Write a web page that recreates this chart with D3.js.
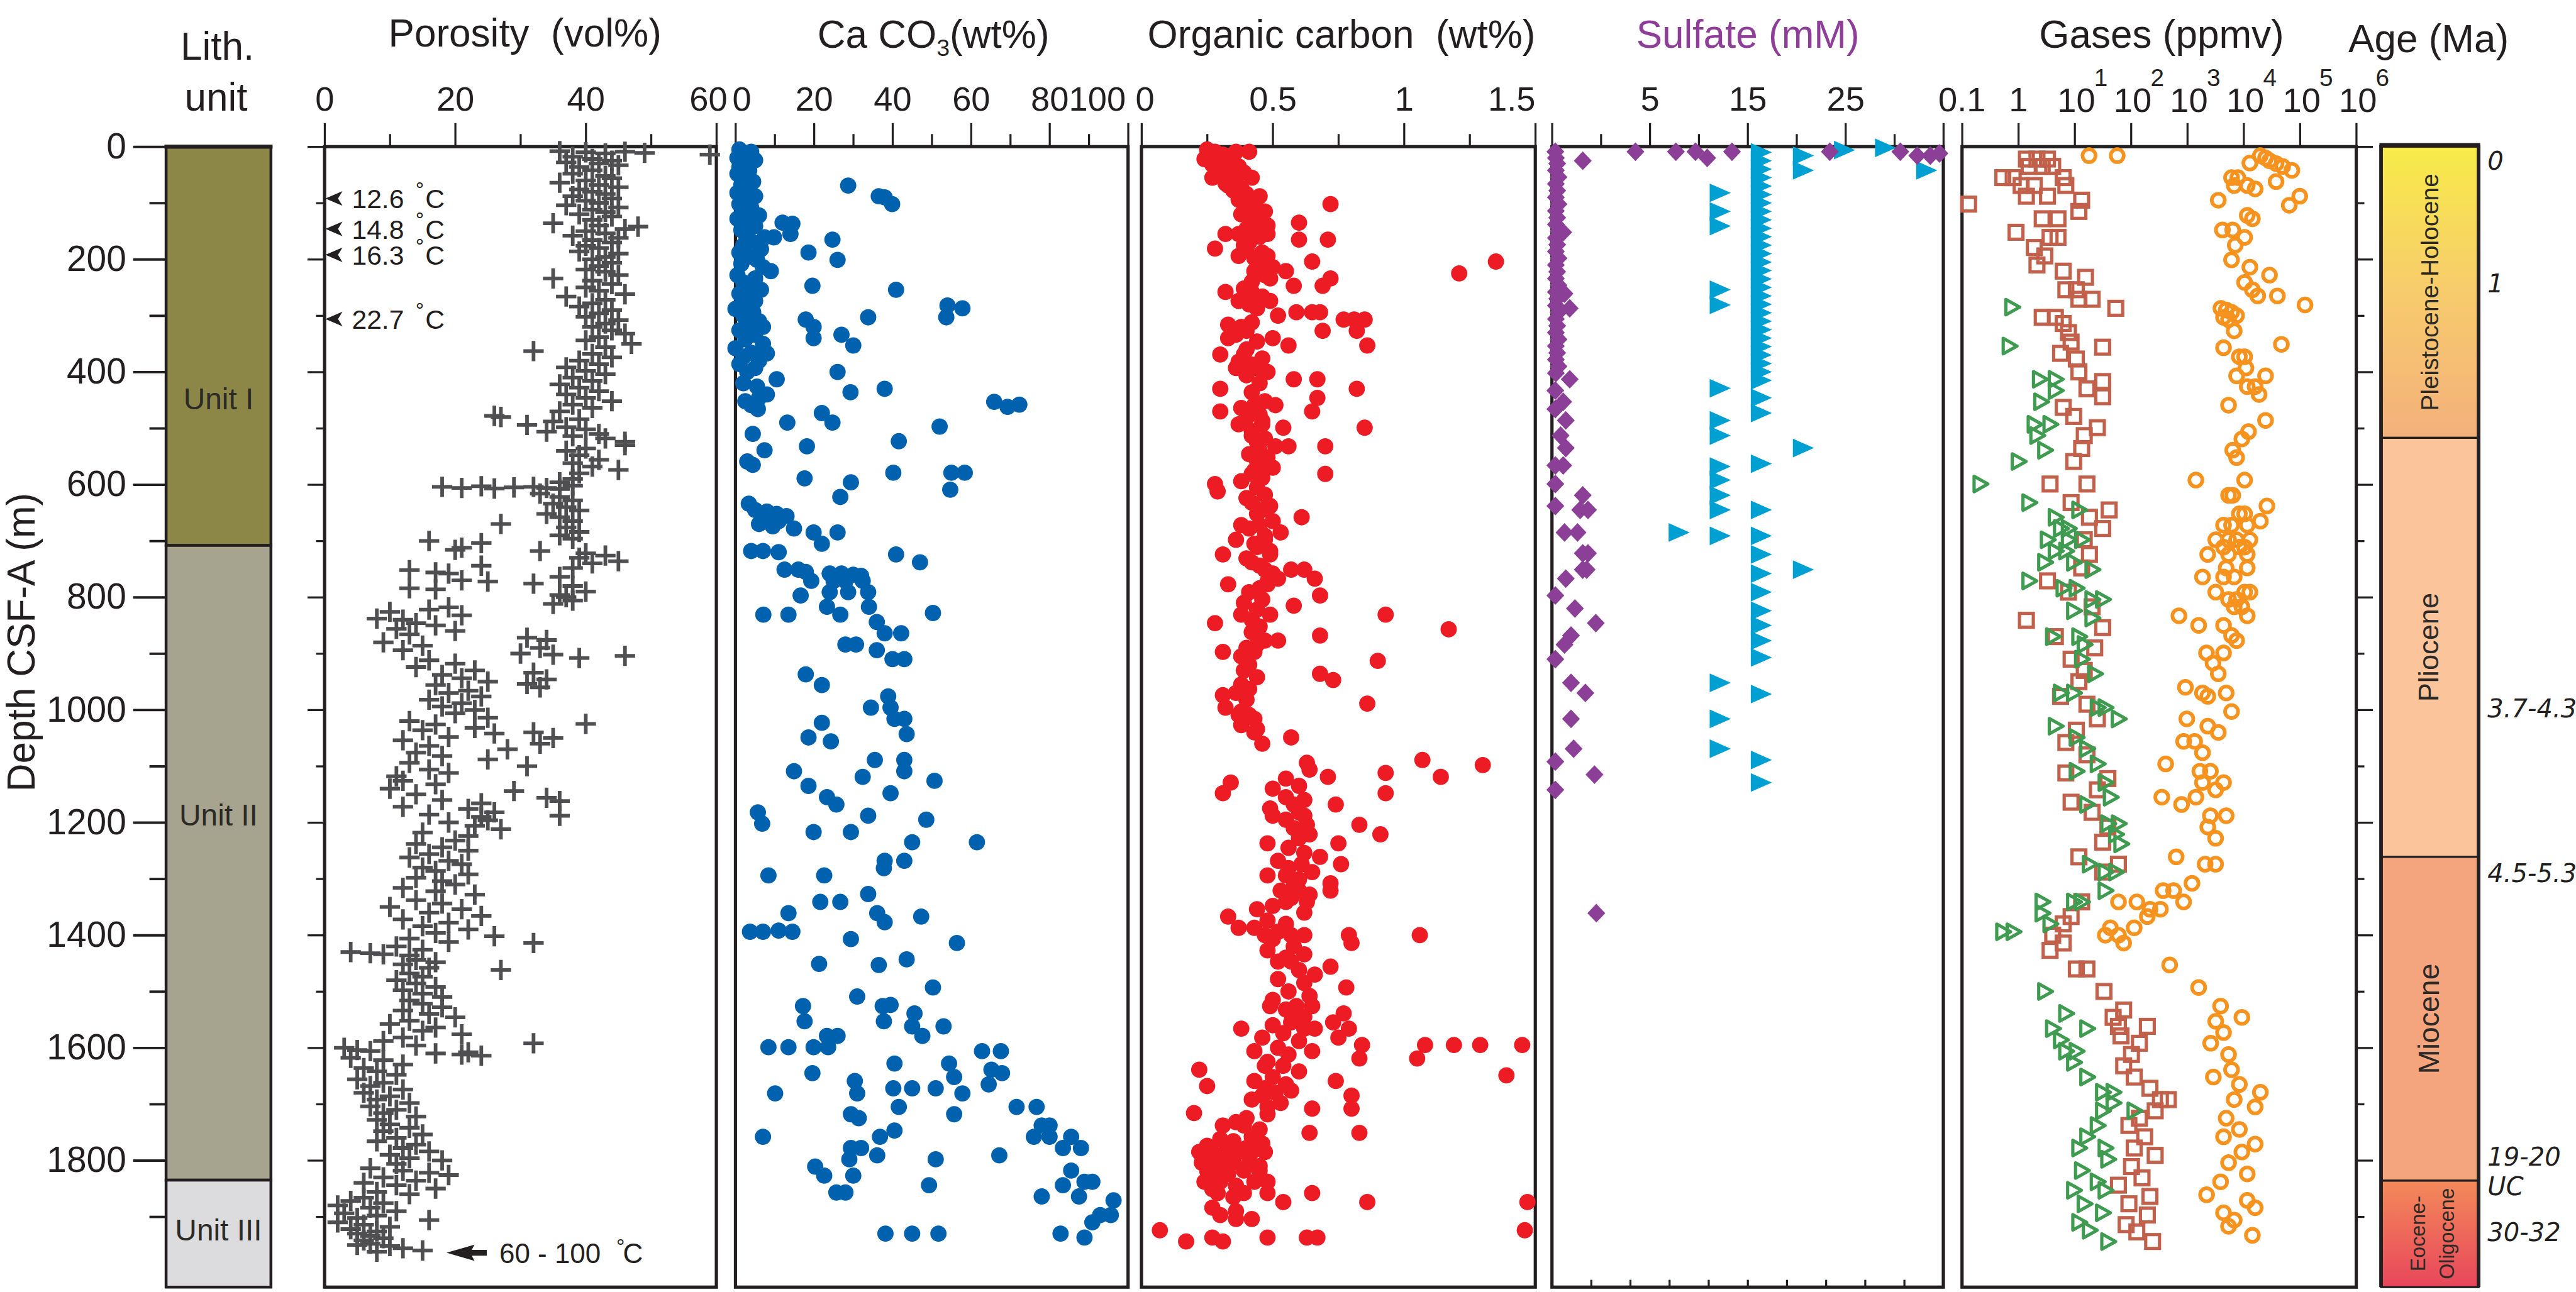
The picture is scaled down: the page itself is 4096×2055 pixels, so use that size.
<!DOCTYPE html>
<html>
<head>
<meta charset="utf-8">
<script src="https://cdn.jsdelivr.net/npm/d3@7"></script>
<style>
  body { margin: 0; background: #fff; }
  svg { display: block; }
  text { font-family: "Liberation Sans", Arial, sans-serif; }
</style>
</head>
<body>
<div id="viz"></div>
<script>
// ---------- data (depth in m CSF-A, value) ----------
var lithNames = ["Unit I", "Unit II", "Unit III"];
var lithTops  = [0, 708, 1835];
var lithBases = [708, 1835, 2025];

var epochNames = ["Pleistocene-Holocene", "Pliocene", "Miocene", "Eocene-Oligocene"];
var epochTops  = [0, 517, 1261, 1836];
var epochBases = [517, 1261, 1836, 2025];

var ageLabels = ["0", "1", "3.7-4.3", "4.5-5.3", "19-20", "UC", "30-32"];
var ageDepths = [25, 243, 998, 1290, 1793, 1846, 1927];

var tempLabels = ["12.6", "14.8", "16.3", "22.7"];
var tempDepths = [92, 146, 192, 306];
var deepTempLabel = "60 - 100", deepTempDepth = 1964;

// tick values
var depthMajor = [0, 200, 400, 600, 800, 1000, 1200, 1400, 1600, 1800];
var depthMinor = [100, 300, 500, 700, 900, 1100, 1300, 1500, 1700, 1900];
var porTicks = [0, 20, 40, 60], porMinor = [10, 30, 50];
var caTicks = [0, 20, 40, 60, 80, 100], caMinor = [10, 30, 50, 70, 90];
var ocTicks = [0, 0.5, 1, 1.5], ocMinor = [0.25, 0.75, 1.25];
var sulTicks = [-5, 5, 15, 25, 35], sulMinor = [0, 10, 20, 30];
var sulLowTicks = [3, 6, 9, 12, 15, 18, 21, 24, 27];
var gasTicks = [0.1, 1, 10, 100, 1e3, 1e4, 1e5, 1e6];

// porosity (vol%)
var porosity = [
[8,36],[10,40],[12,43],[9,46],[11,49],[14,59],[18,38],[22,41],[25,44],[28,37],[30,42],[33,45],[36,39],
[42,41],[48,38],[52,43],[56,44],[60,40],[64,36],[68,42],[72,45],[76,39],[80,41],[84,43],[88,38],[92,44],[96,40],[100,42],[104,37],[108,45],[112,41],[116,43],
[120,39],[124,44],[130,41],[136,35],[140,42],[142,48],[146,46],[150,40],[154,43],[158,38],[162,45],[166,41],[170,44],[176,40],[180,42],[186,39],[190,45],[196,43],[200,41],[206,44],[212,42],[218,40],
[222,43],[228,45],[234,35],[238,41],[244,44],[250,40],[256,42],[262,46],[266,37],[272,43],[278,41],[284,39],[290,44],[296,42],[302,40],[308,45],[314,43],
[320,41],[326,44],[332,46],[338,42],[344,40],[350,47],[356,43],[363,32],[368,41],[374,44],[380,39],[386,42],[392,37],[398,40],
[404,43],[410,38],[416,41],[422,36],[428,39],[434,42],[440,37],[446,40],[452,44],[458,38],[464,41],[470,36],[478,26],[480,27],[484,39],[488,35],
[494,31],[498,37],[502,40],[506,34],[510,42],[514,38],[518,43],[524,46],[530,46],[536,40],[540,37],[548,39],[556,42],[562,38],[568,41],[574,45],[580,39],[590,38],[596,36],
[604,18],[606,21],[603,24],[607,26],[605,29],[604,32],[606,34],[608,36],[602,38],
[616,33],[622,36],[628,38],[634,35],[640,37],[646,39],[652,34],[658,36],[665,38],[670,27],[676,37],[684,39],[690,36],[696,38],
[700,16],[704,24],[712,21],[716,20],[718,33],[722,40],[726,43],[730,39],[736,45],[740,41],[744,24],[748,38],
[752,13],[756,17],[758,19],[764,36],[770,21],[772,25],[776,32],[780,38],[784,13],[786,17],[790,40],[796,36],[800,37],[806,38],[812,35],
[818,19],[822,16],[826,10],[832,21],[838,8],[840,12],[846,14],[850,17],[856,11],[860,20],[866,13],[872,31],[876,34],[880,9],[886,15],[890,33],[894,12],[900,30],[902,35],[904,46],[908,39],
[912,16],[918,20],[924,14],[930,23],[934,32],[938,18],[944,21],[946,34],[950,25],[954,31],[956,17],[960,33],[966,22],[970,19],[976,24],[982,16],[988,21],[994,18],[1000,23],[1006,20],[1014,25],
[1020,13],[1025,40],[1026,17],[1032,23],[1036,15],[1040,32],[1042,26],[1048,19],[1050,35],[1054,12],[1060,33],[1064,16],[1070,28],[1076,14],[1082,18],[1088,25],[1094,13],[1100,31],[1106,16],[1112,19],[1118,11],
[1126,12],[1132,17],[1140,10],[1144,29],[1150,14],[1156,34],[1160,18],[1162,36],[1166,24],[1172,12],[1176,22],[1182,26],[1186,16],[1188,36],[1190,24],[1196,25],[1200,19],[1206,23],[1212,27],[1218,15],[1224,22],
[1232,20],[1238,14],[1244,18],[1250,22],[1256,16],[1262,13],[1268,19],[1274,21],[1280,15],[1286,17],[1292,22],[1298,14],[1304,18],[1310,20],[1316,12],[1322,17],[1328,23],
[1338,14],[1344,18],[1350,10],[1354,21],[1360,16],[1366,24],[1372,12],[1378,19],[1384,15],[1390,22],[1396,17],[1402,26],[1406,13],[1412,19],[1414,32],[1420,11],[1426,15],[1430,4],[1432,7],[1434,9],[1436,13],
[1444,14],[1448,17],[1452,12],[1458,16],[1462,27],[1468,13],[1474,15],[1480,11],[1486,14],[1492,17],[1498,12],[1504,15],[1510,18],[1516,13],
[1522,15],[1528,18],[1534,12],[1540,16],[1546,20],[1552,13],[1558,10],[1564,17],[1570,15],[1576,21],[1582,12],[1588,9],[1592,32],[1596,14],
[1600,3],[1604,5],[1606,7],[1608,22],[1610,17],[1612,21],[1614,24],[1618,4],[1622,9],[1630,12],[1636,6],[1642,8],[1648,11],
[1656,5],[1662,9],[1668,7],[1674,12],[1680,6],[1686,10],[1692,8],[1698,13],[1704,7],[1710,11],[1716,9],[1722,14],[1728,8],
[1736,10],[1742,13],[1748,9],[1754,15],[1760,11],[1766,8],[1772,14],[1778,12],[1784,16],[1790,10],[1796,13],[1800,18],[1806,11],
[1814,7],[1818,12],[1822,16],[1826,19],[1830,9],[1836,14],[1840,6],[1844,11],[1850,17],[1856,8],[1860,13],
[1866,6],[1872,4],[1876,9],[1880,2],[1884,7],[1890,11],[1894,3],[1898,8],[1902,5],[1906,16],[1910,2],[1914,6],[1918,10],[1922,4],[1926,8],[1930,5],[1934,7],[1938,9],[1942,6],
[1948,7],[1950,5],[1952,10],[1956,12],[1960,15],[1962,8]
];

// CaCO3 (wt%)
var caco3 = [
[5,1],[9,4],[14,2],[20,0.5],[24,5],[30,2.5],[36,1],[42,3.5],[48,0.5],[55,2],[62,4.5],[68,1.5],[75,3],[82,0.5],[88,5],[95,2],[102,1],[108,4],[115,2.5],[122,6],[128,0.5],[135,3],[141,5],[148,1.5],[155,2.5],[168,4],[175,2],[182,6.5],[188,1],[195,3.5],[201,5.5],[208,1.5],[214,7],[228,0.5],[234,5],[241,2],[248,4],[254,6.5],[261,1],[268,3],[274,5],[281,2],[288,0],[294,4.5],[300,2],[310,6],[318,3],[326,1],[334,5],[342,2.5],[350,7],[358,0],[366,4],[373,2],[380,6],[386,1],[393,5],[400,3],[420,2],[426,5.5],[440,8],[446,6],[452,2.5],[459,4],
[69,28.7],[88,36.5],[90,38],[102,39.9],[135,12],[137,14.5],[155,14],[161,7.4],[161,9.8],[165,24.7],[188,18.6],[201,26],[221,9],[247,19.6],[254,40.9],[287,57.8],[282,54],[303,33.8],[303,53.7],[307,17.9],[320,19.9],[320,7],[334,27],[340,19.9],[353,30],[367,8],[400,26],[413,10.5],[430,38],[436,29.3],[453,65.9],[462,69.3],[458,72.3],[466,5.7],[473,22],[490,24.7],[490,13.2],[497,52],[510,4.4],[523,41.6],[532,18.2],[539,7.4],[559,3],[565,4.4],[579,40.2],[579,58.4],[579,55],[589,17.6],[596,29.4],[609,54.7],[622,26.7],[634,3.4],
[645,5],[648,8],[652,10.5],[656,13],[660,7],[665,11],[670,6],[674,9.5],[678,14.9],[685,19.9],[685,26],[705,22],[718,4],[718,7],[720,11],[724,40.9],[738,47],[751,12.5],[751,16],[755,17.9],[758,24],[758,27],[760,30],[762,32],[771,19.3],[771,25],[771,28],[771,32.4],[791,24],[791,28.7],[791,33.8],[797,16.6],[817,23.3],[817,34],[831,7.1],[831,13.5],[831,26.7],[828,50.3],[844,36],[864,38],[864,42.2],[884,28],[884,30.7],[894,36],[910,40],[910,43],[937,17.9],[956,22],[976,38.9],[996,34.5],[996,39.5],[1016,40.5],[1016,43],[1023,22],[1043,43.6],[1049,18.6],[1056,24.3],[1089,35.5],[1089,43],[1109,14.9],[1109,43],[1119,32.4],[1126,50.7],[1135,18.6],[1148,39.5],[1155,23.3],[1168,25.7],[1182,5.7],[1188,33.8],[1195,48.6],[1202,6.8],[1217,19.9],[1217,29.4],[1235,45],[1235,61.5],[1268,43],[1268,38],[1281,37.8],[1294,8.4],[1294,22.6],[1327,33.8],[1341,21.6],[1341,26.7],[1361,13.5],[1361,36.1],[1367,47.3],[1377,38],[1394,3.7],[1394,7],[1392,11],[1394,14.5],[1407,29.4],[1414,56.4],[1443,43.6],[1451,21.3],[1453,36.5],[1493,50.3],[1509,31],[1526,17.2],[1526,37.5],[1524,39.5],[1539,45.6],[1553,17.6],[1553,37.8],[1562,45],[1562,53],[1579,23.3],[1579,26],[1579,47.6],[1599,8.4],[1599,13.5],[1599,19.9],[1599,23.6],[1606,62.8],[1606,67.6],[1628,40.5],[1628,54.4],[1639,65.2],[1645,19.6],[1645,67.9],[1652,55.7],[1659,30.4],[1665,64.5],[1672,40.2],[1672,45],[1672,51],[1681,10.1],[1681,31],[1681,57.8],[1705,41.6],[1705,71.6],[1705,76.7],[1718,29.4],[1718,55.7],[1725,31.4],[1738,78],[1738,80],[1747,40.5],[1758,7],[1758,36.8],[1758,76],[1758,80],[1758,85.5],[1778,29.4],[1778,32],[1778,83.4],[1778,88],[1791,36.1],[1791,67.2],[1798,29],[1798,51],[1811,20.3],[1818,85.5],[1827,22.6],[1827,30],[1838,88.9],[1838,90.9],[1844,49.3],[1844,83.4],[1857,25.7],[1857,28],[1864,78],[1864,87.5],[1871,96.3],[1897,95.6],[1897,92.9],[1910,90.9],[1930,38.2],[1930,45],[1930,51.7],[1930,82.8],[1937,88.9]
];

// organic carbon (wt%)
var orgC = [
[5,0.25],[9,0.28],[9,0.36],[9,0.41],[14,0.31],[18,0.33],[22,0.24],[22,0.32],[28,0.35],[32,0.27],[35,0.29],[35,0.37],[40,0.34],[46,0.39],[50,0.3],[55,0.27],[55,0.42],[60,0.36],[65,0.32],[69,0.33],[74,0.38],[78,0.35],[84,0.4],[88,0.39],[88,0.45],[94,0.37],[98,0.43],[102,0.72],[106,0.4],[110,0.44],[115,0.41],[115,0.47],[120,0.38],[126,0.45],[132,0.42],[135,0.6],[135,0.44],[140,0.48],[146,0.4],[150,0.43],[155,0.32],[155,0.37],[155,0.48],[160,0.45],[165,0.6],[165,0.71],[170,0.41],[175,0.39],[181,0.28],[181,0.4],[188,0.46],[194,0.37],[194,0.48],[198,0.43],[204,0.65],[204,1.35],[210,0.45],[214,0.5],[221,0.43],[221,0.55],[225,1.21],[228,0.47],[234,0.72],[234,0.49],[240,0.42],[247,0.58],[247,0.69],[252,0.39],[258,0.32],[258,0.42],[266,0.46],[274,0.37],[274,0.49],[280,0.41],[287,0.44],[294,0.59],[294,0.65],[294,0.68],[300,0.52],[307,0.77],[307,0.81],[307,0.85],[312,0.42],[316,0.33],[320,0.38],[327,0.4],[327,0.69],[327,0.82],[334,0.36],[340,0.33],[340,0.5],[346,0.44],[353,0.86],[353,0.56],[360,0.4],[369,0.3],[369,0.39],[376,0.46],[382,0.37],[387,0.42],[393,0.36],[393,0.44],[400,0.48],[406,0.4],[413,0.58],[413,0.67],[420,0.45],[430,0.3],[430,0.82],[436,0.42],[446,0.67],[452,0.47],[459,0.43],[459,0.51],[464,0.38],[470,0.3],[470,0.65],[476,0.45],[482,0.4],[487,0.46],[493,0.37],[493,0.46],[499,0.54],[499,0.85],[505,0.42],[513,0.42],[518,0.47],[525,0.44],[532,0.51],[532,0.56],[532,0.7],[540,0.45],[546,0.41],[552,0.48],[558,0.44],[563,0.47],[570,0.5],[575,0.43],[581,0.42],[581,0.7],[588,0.46],[594,0.38],[599,0.28],[605,0.44],[612,0.29],[618,0.47],[624,0.4],[632,0.42],[638,0.49],[645,0.46],[652,0.44],[658,0.61],[665,0.5],[672,0.38],[672,0.45],[678,0.41],[685,0.53],[691,0.47],[698,0.36],[698,0.47],[705,0.43],[711,0.44],[718,0.49],[724,0.31],[724,0.49],[731,0.4],[738,0.42],[744,0.45],[751,0.47],[751,0.57],[751,0.62],[758,0.5],[767,0.52],[767,0.66],[772,0.48],[777,0.33],[777,0.48],[784,0.45],[791,0.41],[797,0.68],[804,0.46],[810,0.39],[815,0.58],[822,0.44],[831,0.38],[831,0.49],[831,0.93],[840,0.42],[846,0.28],[852,0.45],[857,1.17],[862,0.42],[868,0.68],[877,0.47],[877,0.52],[884,0.44],[890,0.4],[897,0.31],[897,0.43],[905,0.38],[913,0.9],[920,0.41],[930,0.39],[936,0.68],[942,0.44],[947,0.73],[955,0.38],[963,0.41],[970,0.36],[974,0.31],[982,0.4],[989,0.86],[996,0.32],[1003,0.38],[1009,0.37],[1009,0.41],[1016,0.43],[1027,0.38],[1034,0.44],[1040,0.43],[1049,0.57],[1060,0.46],
[1089,1.07],[1098,1.3],[1094,0.63],[1106,0.64],[1112,0.93],[1119,1.14],[1119,0.71],[1122,0.55],[1129,0.34],[1135,0.6],[1140,0.5],[1148,0.31],[1148,0.93],[1155,0.55],[1160,0.62],[1168,0.58],[1168,0.74],[1175,0.49],[1182,0.6],[1188,0.5],[1188,0.62],[1195,0.55],[1204,0.63],[1204,0.83],[1210,0.58],[1221,0.64],[1221,0.91],[1228,0.6],[1237,0.48],[1237,0.75],[1245,0.56],[1254,0.62],[1261,0.68],[1268,0.52],[1274,0.61],[1274,0.76],[1281,0.56],[1288,0.65],[1294,0.48],[1294,0.55],[1301,0.6],[1308,0.72],[1314,0.58],[1321,0.53],[1321,0.6],[1321,0.72],[1328,0.64],[1334,0.57],[1341,0.55],[1341,0.63],[1348,0.5],[1354,0.44],[1360,0.62],[1367,0.33],[1374,0.48],[1380,0.55],[1387,0.37],[1387,0.43],[1394,0.52],[1400,0.47],[1400,0.57],[1400,0.62],[1400,0.79],[1400,1.06],[1407,0.5],[1414,0.8],[1420,0.58],[1427,0.48],[1434,0.62],[1440,0.55],[1447,0.52],[1447,0.57],[1456,0.72],[1462,0.6],[1470,0.66],[1478,0.52],[1485,0.62],[1493,0.78],[1500,0.56],[1508,0.64],[1515,0.5],[1526,0.49],[1526,0.59],[1526,0.65],[1532,0.55],[1539,0.57],[1539,0.77],[1545,0.62],[1555,0.57],[1555,0.73],[1560,0.5],[1566,0.38],[1566,0.62],[1566,0.66],[1566,0.79],[1574,0.54],[1582,0.46],[1582,0.75],[1588,0.6],[1595,0.84],[1595,1.08],[1595,1.19],[1595,1.29],[1595,1.45],[1600,0.52],[1606,0.43],[1606,0.65],[1612,0.56],[1619,0.83],[1619,1.05],[1625,0.48],[1632,0.47],[1632,0.54],[1639,0.22],[1642,0.6],[1649,1.39],[1652,0.5],[1659,0.43],[1659,0.74],[1665,0.55],[1668,0.25],[1672,0.47],[1676,0.57],[1680,0.51],[1685,0.46],[1685,0.8],[1692,0.42],[1698,0.53],[1705,0.48],[1708,0.65],[1708,0.8],[1716,0.2],[1718,0.48],[1725,0.4],[1732,0.36],[1738,0.31],[1738,0.39],[1745,0.45],[1751,0.64],[1751,0.83],[1758,0.42],[1762,0.3],[1766,0.35],[1770,0.46],[1774,0.25],[1778,0.4],[1785,0.22],[1785,0.27],[1785,0.32],[1785,0.37],[1785,0.42],[1785,0.47],[1792,0.3],[1798,0.25],[1804,0.23],[1804,0.29],[1804,0.35],[1804,0.41],[1810,0.45],[1818,0.25],[1818,0.31],[1818,0.39],[1818,0.45],[1824,0.33],[1830,0.28],[1838,0.24],[1838,0.3],[1838,0.43],[1838,0.48],[1845,0.36],[1851,0.27],[1858,0.29],[1858,0.39],[1858,0.48],[1858,0.65],[1865,0.35],[1874,0.54],[1874,0.86],[1874,1.47],[1884,0.27],[1890,0.36],[1897,0.3],[1904,0.36],[1904,0.42],[1924,0.07],[1924,1.46],[1937,0.27],[1937,0.48],[1937,0.63],[1937,0.67],[1944,0.17],[1944,0.31]
];

// sulfate, diamonds (lower, unlabelled 0-30 mM scale)
var sulfateDiamonds = [
[9,0.26],[25,2.36],[9,6.4],[9,9.5],[9,11],[20,11.9],[9,13.8],[9,21.3],[9,26.7],[16,28],[16,29],[12,29.7],
[20,0.3],[30,0.4],[42,0.3],[54,0.5],[66,0.3],[78,0.4],[90,0.3],[102,0.5],[114,0.3],[126,0.4],[138,0.3],[150,0.5],[162,0.3],[174,0.4],[186,0.3],[198,0.5],[210,0.3],[222,0.4],[234,0.3],[246,0.5],[258,0.3],[270,0.4],[282,0.3],[294,0.5],[306,0.3],[318,0.4],[330,0.3],[342,0.5],[354,0.3],[366,0.4],[378,0.3],[390,0.5],[402,0.3],
[152,0.86],[261,0.96],[287,1.36],[413,1.36],[433,0.26],[453,0.86],[466,0.26],[486,1.06],[513,0.66],[535,1.06],[566,0.26],[566,0.86],[599,0.26],[619,2.36],[638,0.26],[645,2.16],[645,2.76],[685,0.96],[685,1.96],[722,2.36],[722,2.76],[751,2.36],[751,2.66],[767,1.06],[797,0.26],[820,1.76],[846,3.36],[868,1.46],[884,0.96],[910,0.26],[952,1.46],[970,2.56],[1016,1.46],[1069,1.66],[1092,0.26],[1115,3.26],[1142,0.26],[1361,3.4]
];

// sulfate, triangles (upper labelled scale)
var sulfateTriangles = [
[10,16.4],[25,16.4],[40,16.4],[55,16.4],[70,16.4],[85,16.4],[100,16.4],[115,16.4],[130,16.4],[145,16.4],[160,16.4],[175,16.4],[190,16.4],[205,16.4],[220,16.4],[235,16.4],[250,16.4],[265,16.4],[280,16.4],[295,16.4],[310,16.4],[325,16.4],[340,16.4],[355,16.4],[370,16.4],[385,16.4],[400,16.4],[415,16.4],[446,16.4],[473,16.4],[563,16.4],[645,16.4],[691,16.4],[724,16.4],[758,16.4],[791,16.4],[824,16.4],[850,16.4],[877,16.4],[907,16.4],[972,16.4],[1089,16.4],[1129,16.4],
[82,12.2],[115,12.2],[141,12.2],[254,12.2],[281,12.2],[429,12.2],[486,12.2],[513,12.2],[568,12.2],[592,12.2],[619,12.2],[645,12.2],[691,12.2],[952,12.2],[1016,12.2],[1069,12.2],
[16,20.7],[42,20.7],[535,20.7],[751,20.7],[685,8.0],
[6,24.9],[2,29.1],[42,33.3]
];

// gases (ppmv)
var methane = [
[16,18],[16,57],[16,19800],[20,24500],[25,28800],[30,37700],[35,49300],[29,12900],[42,71800],[55,6100],[55,7900],[62,37700],[69,6800],[69,11600],[75,16000],[88,99100],[95,3550],[104,64600],[122,11600],[128,14300],[148,4200],[148,6400],[161,10400],[175,7100],[201,6100],[214,12900],[228,28800],[241,10400],[254,14300],[265,17800],[265,39800],[281,123000],[287,3950],[290,4900],[294,6100],[300,7500],[303,4400],[307,5400],[327,6800],[351,46800],[357,4400],[373,8400],[373,10400],[393,11000],[407,7500],[407,24500],[426,11600],[426,16000],[440,18800],[459,5400],[486,24500],[506,12200],[519,9300],[539,6400],[552,7500],
[592,1420],[592,10400],[619,5400],[619,6400],[638,25900],[652,10400],[652,8400],[665,19800],[672,4400],[672,6100],[672,11600],[698,3200],[698,5400],[698,7500],[698,12900],[711,4400],[711,8400],[711,10400],[724,2300],[724,5400],[724,11600],[748,4900],[748,11600],[764,1860],[764,4400],[764,6800],[791,3200],[791,10400],[791,12900],[804,5400],[804,7500],[817,6800],[817,9300],[833,710],[833,11600],[850,1590],[850,4400],[868,6100],[877,7500],[899,2190],[899,4400],[917,2860],[936,3550],[960,925],[970,1860],[970,4900],[976,2310],[1003,6100],[1016,980],[1029,2310],[1040,3550],[1056,860],[1056,1350],[1076,1860],[1096,413],[1109,1670],[1109,2570],[1129,1860],[1129,4400],[1142,3180],[1155,352],[1155,1420],[1168,790],[1188,2570],[1188,4900],[1208,2310],[1228,3180],[1261,635],[1274,2070],[1274,3180],[1308,1210],[1321,372],[1321,571],[1341,60],[1341,127],[1341,860],[1354,217],[1354,333],[1367,195],[1387,43],[1387,114],[1400,35],[1400,60],[1414,74],[1453,486],[1493,1590],
[1526,3900],[1546,9300],[1553,3200],[1573,4400],[1592,2600],[1612,5400],[1639,6100],[1652,2900],[1665,8400],[1679,19800],[1692,6800],[1705,16000],[1725,4900],[1745,8400],[1758,4400],[1771,16000],[1785,9300],[1804,5400],[1824,11600],[1838,3900],[1861,2200],[1871,11600],[1884,16000],[1893,4400],[1906,6800],[1917,5400],[1933,14300]
];
var ethane = [
[22,1.39],[22,2.14],[22,3.29],[35,1.55],[35,2.65],[35,4.07],[55,0.53],[55,0.81],[55,6.26],[69,1.12],[69,1.92],[69,6.97],[88,1.39],[88,3.29],[95,13.3],[102,0.131],[115,11.9],[128,2.65],[128,5.05],[152,0.91],[161,3.66],[161,5.05],[179,1.92],[194,2.95],[210,2.14],[221,6.26],[232,15.6],[254,6.97],[254,10.7],[271,11.9],[271,20.4],[287,53.7],[303,2.65],[303,4.54],[314,6.26],[330,7.76],[347,8.64],[356,31.4],[367,5.62],[377,10.7],[400,11.9],[417,31.4],[430,16.5],[444,31.4],[463,6.26],[479,9.62],[499,25.3],[513,14.8],[536,13.3],[559,9.62],[599,3.66],[599,16.5],[632,8.64],[645,41],[658,18.3],[678,31.4],[698,14.8],[724,18.3],[748,13.3],[771,3.29],[791,7.76],[817,20.4],[841,1.39],[854,31.4],[870,4.54],[890,22.7],[910,8.64],[930,14.8],[950,11.9],[976,5.62],[990,16.5],[1016,25.3],[1036,10.7],[1058,6.97],[1080,16.5],[1112,6.97],[1122,38.9],[1142,25.3],[1164,8.64],[1182,20.4],[1208,38.9],[1235,31.4],[1261,11.9],[1274,59.8],[1288,31.4],[1341,13.3],[1367,8.64],[1380,6.26],[1400,4.07],[1414,6.26],[1427,3.66],[1460,10.7],[1460,16.5],[1500,33.1],[1533,74.1],[1546,48.2],[1562,195],[1562,59.8],[1579,66.5],[1592,141],[1612,102],[1632,74.1],[1652,114],[1672,217],[1692,460],[1692,333],[1712,269],[1725,141],[1738,91.8],[1758,175],[1778,114],[1791,269],[1811,102],[1831,157],[1844,59.8],[1864,217],[1877,91.8],[1897,195],[1914,82],[1927,127],[1944,242]
];
var propane = [
[285,0.77],[354,0.69],[413,2.38],[413,4.54],[433,4.54],[453,2.51],[493,3.66],[493,1.92],[513,2.14],[539,2.95],[559,1.0],[599,0.21],[632,1.55],[645,11.9],[658,4.54],[678,5.62],[678,7.76],[698,3.29],[698,7.76],[698,13.3],[718,4.54],[718,6.97],[738,2.95],[738,9.62],[751,20.4],[771,1.55],[784,6.26],[784,10.7],[804,20.4],[804,31.4],[824,9.62],[837,20.4],[870,4.07],[870,11.9],[884,14.8],[910,13.3],[936,22.7],[970,5.62],[970,9.62],[996,25.3],[996,34.9],[1016,59.8],[1029,4.54],[1049,10.7],[1069,16.5],[1096,25.3],[1109,10.7],[1129,34.9],[1155,43.3],[1168,16.5],[1202,38.9],[1202,59.8],[1221,53.7],[1238,66.5],[1274,18.3],[1288,34.9],[1288,53.7],[1321,34.9],[1341,2.65],[1341,9.62],[1341,13.3],[1361,2.65],[1380,3.66],[1394,0.53],[1394,0.81],[1500,2.95],[1539,6.97],[1566,16.5],[1566,4.07],[1586,5.62],[1606,6.97],[1606,10.7],[1626,9.62],[1652,16.5],[1679,31.4],[1679,48.2],[1698,48.2],[1712,31.4],[1712,114],[1738,25.3],[1758,16.5],[1778,11.9],[1778,34.9],[1798,38.9],[1818,13.3],[1838,25.3],[1853,9.62],[1853,34.9],[1877,14.8],[1893,31.4],[1910,11.9],[1924,18.3],[1944,38.9]
];

// ---------- layout & style (reference pixel units) ----------
var W = 6337, H = 3180;
var yTop = 361, yBot = 3168;
var ink = "#231f20";
var col = {
  por: "#4f4f51", ca: "#0061ae", oc: "#ed1c24", diamond: "#8b3f97", tri: "#00a0d2",
  ch4: "#f6921e", c2: "#c1604b", c3: "#3f9b50",
  lith: ["#8c8746", "#a6a48e", "#dcdcde"],
  epoch: ["url(#gPleist)", "#fbc49b", "#f4a57d", "url(#gEoc)"]
};

var svg = d3.select("#viz")
  .append("svg")
    .attr("width", 4096)
    .attr("height", 2055)
    .attr("viewBox", "0 0 " + W + " " + H);

var defs = svg.append("defs");
function gradient(id, stops) {
  var g = defs.append("linearGradient").attr("id", id)
    .attr("x1", 0).attr("y1", 0).attr("x2", 0).attr("y2", 1);
  stops.forEach(function(s) { g.append("stop").attr("offset", s[0]).attr("stop-color", s[1]); });
}
gradient("gPleist", [[0, "#f7eb49"], [0.5, "#f7cb6c"], [1, "#f3b07c"]]);
gradient("gEoc", [[0, "#f38a5a"], [1, "#e8465a"]]);

// scales
var y = d3.scaleLinear().domain([0, 2025]).range([yTop, yBot]);
var xPor = d3.scaleLinear().domain([0, 60]).range([798, 1762]);
var xCa = d3.scaleLinear().domain([0, 100]).range([1809, 2775]);
var xOc = d3.scaleLinear().domain([0, 1.5]).range([2808, 3777]);
var xSul = d3.scaleLinear().domain([-5, 35]).range([3818, 4781]);
var xSulLow = d3.scaleLinear().domain([0, 30]).range([3818, 4781]);
var xGas = d3.scaleLog().domain([0.1, 1e6]).range([4827, 5797]);

// ---------- top axes ----------
function topAxis(scale, major, minor, fmt) {
  var g = svg.append("g").attr("transform", "translate(0," + yTop + ")");
  if (minor.length) g.append("g").call(d3.axisTop(scale).tickValues(minor).tickSize(31).tickFormat(""));
  var gm = g.append("g").call(d3.axisTop(scale).tickValues(major).tickSize(58).tickPadding(31).tickFormat(fmt));
  g.selectAll(".domain").remove();
  g.selectAll(".tick line").attr("stroke", ink).attr("stroke-width", 5);
  gm.attr("font-size", 84);
  gm.selectAll(".tick text").attr("fill", ink);
  return gm;
}
var gp = topAxis(xPor, porTicks, porMinor, d3.format("d"));
gp.selectAll(".tick text").filter(function(d) { return d === 60; }).attr("dx", -20);
var gc = topAxis(xCa, caTicks, caMinor, d3.format("d"));
gc.selectAll(".tick text").filter(function(d) { return d === 0; }).attr("dx", 15);
gc.selectAll(".tick text").filter(function(d) { return d === 100; }).attr("text-anchor", "end").attr("dx", -6);
var go = topAxis(xOc, ocTicks, ocMinor, function(d) { return String(d); });
go.selectAll(".tick text").filter(function(d) { return d === 0; }).attr("dx", 8);
go.selectAll(".tick text").filter(function(d) { return d === 1.5; }).attr("text-anchor", "end");
topAxis(xSul, sulTicks, sulMinor, function(d) { return (d === -5 || d === 35) ? "" : String(d); });
topAxis(xGas, gasTicks, [], "");

// gas labels with powers of ten
gasTicks.forEach(function(v) {
  var e = Math.round(Math.log10(v));
  if (v < 10) {
    svg.append("text").attr("x", xGas(v)).attr("y", 274).attr("text-anchor", "middle")
      .attr("font-size", 84).attr("fill", ink).text(v === 0.1 ? "0.1" : "1");
  } else {
    svg.append("text").attr("x", xGas(v) + 4).attr("y", 276).attr("text-anchor", "middle")
      .attr("font-size", 84).attr("fill", ink).text("10");
    svg.append("text").attr("x", xGas(v) + 48).attr("y", 212)
      .attr("font-size", 60).attr("fill", ink).text(e);
  }
});

// bottom ticks of the sulfate panel
var gsb = svg.append("g").attr("transform", "translate(0," + yBot + ")")
  .call(d3.axisTop(xSulLow).tickValues(sulLowTicks).tickSize(18).tickFormat(""));
gsb.select(".domain").remove();
gsb.selectAll("line").attr("stroke", ink).attr("stroke-width", 5);

// ---------- depth ticks ----------
function sideTicks(x, axisFn, big, small) {
  var g = svg.append("g").attr("transform", "translate(" + x + ",0)");
  g.append("g").call(axisFn(y).tickValues(depthMajor).tickSize(big).tickFormat(""));
  g.append("g").call(axisFn(y).tickValues(depthMinor).tickSize(small).tickFormat(""));
  g.selectAll(".domain").remove();
  g.selectAll("line").attr("stroke", ink).attr("stroke-width", 5);
  return g;
}
sideTicks(798, d3.axisLeft, 42, 21);
sideTicks(5797, d3.axisRight, 41, 20);

var gd = svg.append("g").attr("transform", "translate(408,0)");
gd.append("g").call(d3.axisLeft(y).tickValues(depthMajor).tickSize(81).tickPadding(17).tickFormat(d3.format("d")));
gd.append("g").call(d3.axisLeft(y).tickValues(depthMinor).tickSize(41).tickFormat(""));
gd.selectAll(".domain").remove();
gd.selectAll("line").attr("stroke", ink).attr("stroke-width", 6);
gd.selectAll("g").attr("font-size", 88);
gd.selectAll("text").attr("fill", ink);

svg.append("text")
  .attr("transform", "translate(84," + y(880) + ") rotate(-90)")
  .attr("text-anchor", "middle").attr("font-size", 96).attr("fill", ink)
  .text("Depth CSF-A (m)");

// ---------- lithology column ----------
var lith = svg.append("g");
lith.selectAll("rect").data(lithNames).enter().append("rect")
  .attr("x", 408).attr("width", 666 - 408)
  .attr("y", function(d, i) { return y(lithTops[i]); })
  .attr("height", function(d, i) { return y(lithBases[i]) - y(lithTops[i]); })
  .attr("fill", function(d, i) { return col.lith[i]; })
  .attr("stroke", ink).attr("stroke-width", 7);
lith.selectAll("text").data(lithNames).enter().append("text")
  .attr("x", 537)
  .attr("y", function(d, i) { return y([447, 1187, 1923][i]) + 26; })
  .attr("text-anchor", "middle").attr("font-size", 74).attr("fill", "#2b2a26")
  .text(function(d) { return d; });
lith.append("line").attr("x1", 404).attr("x2", 670).attr("y1", yTop).attr("y2", yTop)
  .attr("stroke", ink).attr("stroke-width", 10);

// ---------- panel frames ----------
[xPor, xCa, xOc, xSul, xGas].forEach(function(s) {
  var r = s.range();
  svg.append("rect").attr("x", r[0]).attr("y", yTop)
    .attr("width", r[1] - r[0]).attr("height", yBot - yTop)
    .attr("fill", "none").attr("stroke", ink).attr("stroke-width", 8);
});

// ---------- marks ----------
function at(xs) {
  return function(d) { return "translate(" + xs(d[1]) + "," + y(d[0]) + ")"; };
}

svg.append("g").selectAll("path").data(porosity).enter().append("path")
  .attr("d", "M-25,0H25M0,-25V25")
  .attr("transform", at(xPor))
  .attr("stroke", col.por).attr("stroke-width", 9).attr("fill", "none");

svg.append("g").selectAll("circle").data(caco3).enter().append("circle")
  .attr("cx", function(d) { return xCa(d[1]); })
  .attr("cy", function(d) { return y(d[0]); })
  .attr("r", 20).attr("fill", col.ca);

svg.append("g").selectAll("circle").data(orgC).enter().append("circle")
  .attr("cx", function(d) { return xOc(d[1]); })
  .attr("cy", function(d) { return y(d[0]); })
  .attr("r", 20).attr("fill", col.oc);

svg.append("g").selectAll("path").data(sulfateTriangles).enter().append("path")
  .attr("d", "M-26,-23L26,0L-26,23Z")
  .attr("transform", at(xSul))
  .attr("fill", col.tri);

svg.append("g").selectAll("path").data(sulfateDiamonds).enter().append("path")
  .attr("d", "M0,-23L22,0L0,23L-22,0Z")
  .attr("transform", at(xSulLow))
  .attr("fill", col.diamond);

svg.append("g").selectAll("rect").data(ethane).enter().append("rect")
  .attr("x", function(d) { return xGas(d[1]) - 17; })
  .attr("y", function(d) { return y(d[0]) - 17; })
  .attr("width", 34).attr("height", 34)
  .attr("fill", "none").attr("stroke", col.c2).attr("stroke-width", 8);

svg.append("g").selectAll("path").data(propane).enter().append("path")
  .attr("d", "M-15,-19L19,0L-15,19Z")
  .attr("transform", at(xGas))
  .attr("fill", "none").attr("stroke", col.c3).attr("stroke-width", 8)
  .attr("stroke-linejoin", "round");

svg.append("g").selectAll("circle").data(methane).enter().append("circle")
  .attr("cx", function(d) { return xGas(d[1]); })
  .attr("cy", function(d) { return y(d[0]); })
  .attr("r", 16).attr("fill", "none").attr("stroke", col.ch4).attr("stroke-width", 9);

// ---------- temperature notes ----------
tempLabels.forEach(function(t, i) {
  var yy = y(tempDepths[i]);
  svg.append("path").attr("d", "M0,0L42,-18L31,0L42,18Z")
    .attr("transform", "translate(800," + yy + ")").attr("fill", ink);
  svg.append("text").attr("x", 865).attr("y", yy + 24).attr("font-size", 66).attr("fill", ink).text(t);
  svg.append("text").attr("x", 1022).attr("y", yy - 4).attr("font-size", 52).attr("fill", ink).text("\u00b0");
  svg.append("text").attr("x", 1046).attr("y", yy + 24).attr("font-size", 66).attr("fill", ink).text("C");
});
var yt = y(deepTempDepth);
svg.append("path")
  .attr("d", "M0,0L69,-20L62,-7L99,-7L99,7L62,7L69,20Z")
  .attr("transform", "translate(1098," + yt + ")").attr("fill", ink);
svg.append("text").attr("x", 1228).attr("y", yt + 25).attr("font-size", 68).attr("fill", ink)
  .style("white-space", "pre").text(deepTempLabel);
svg.append("text").attr("x", 1516).attr("y", yt + 2).attr("font-size", 52).attr("fill", ink).text("\u00b0");
svg.append("text").attr("x", 1532).attr("y", yt + 25).attr("font-size", 68).attr("fill", ink).text("C");

// ---------- age column ----------
var age = svg.append("g");
age.selectAll("rect").data(epochNames).enter().append("rect")
  .attr("x", 5858).attr("width", 6098 - 5858)
  .attr("y", function(d, i) { return y(epochTops[i]); })
  .attr("height", function(d, i) { return y(epochBases[i]) - y(epochTops[i]); })
  .attr("fill", function(d, i) { return col.epoch[i]; })
  .attr("stroke", ink).attr("stroke-width", 5);
age.append("line").attr("x1", 5858).attr("x2", 5858).attr("y1", yTop - 4).attr("y2", yBot)
  .attr("stroke", ink).attr("stroke-width", 9);
age.append("line").attr("x1", 6098).attr("x2", 6098).attr("y1", yTop - 4).attr("y2", yBot)
  .attr("stroke", ink).attr("stroke-width", 9);
age.append("line").attr("x1", 5854).attr("x2", 6102).attr("y1", yTop - 4).attr("y2", yTop - 4)
  .attr("stroke", ink).attr("stroke-width", 10);

function epochLabel(txt, x, d, size) {
  age.append("text")
    .attr("transform", "translate(" + x + "," + y(d) + ") rotate(-90)")
    .attr("text-anchor", "middle").attr("dominant-baseline", "central")
    .attr("font-size", size).attr("fill", "#2b2a26").text(txt);
}
epochLabel(epochNames[0], 5978, (epochTops[0] + epochBases[0]) / 2, 60);
epochLabel(epochNames[1], 5975, (epochTops[1] + epochBases[1]) / 2, 70);
epochLabel(epochNames[2], 5975, (epochTops[2] + epochBases[2]) / 2, 72);
epochLabel("Eocene-", 5950, 1930, 50);
epochLabel("Oligocene", 6021, 1930, 50);

age.selectAll("text.age").data(ageLabels).enter().append("text")
  .attr("class", "age")
  .attr("x", 6120)
  .attr("y", function(d, i) { return y(ageDepths[i]) + 22; })
  .attr("font-size", 62).attr("font-style", "italic")
  .style("font-family", "'DejaVu Sans', sans-serif")
  .attr("fill", ink)
  .text(function(d) { return d; });

// ---------- titles ----------
function title(txt, x, yy, color) {
  return svg.append("text").attr("x", x).attr("y", yy).attr("text-anchor", "middle")
    .attr("font-size", 96).attr("fill", color || ink).style("white-space", "pre").text(txt);
}
title("Lith.", 534, 147);
title("unit", 531, 272);
title("Porosity  (vol%)", 1291, 115);
var tc = svg.append("text").attr("x", 2296).attr("y", 117).attr("text-anchor", "middle")
  .attr("font-size", 96).attr("fill", ink);
tc.append("tspan").text("Ca CO");
tc.append("tspan").attr("font-size", 58).attr("dy", 20).text("3");
tc.append("tspan").attr("dy", -20).text("(wt%)");
title("Organic carbon  (wt%)", 3300, 117);
title("Sulfate (mM)", 4300, 117, "#8e3e98");
title("Gases (ppmv)", 5318, 117);
title("Age (Ma)", 5975, 128);
</script>
</body>
</html>
